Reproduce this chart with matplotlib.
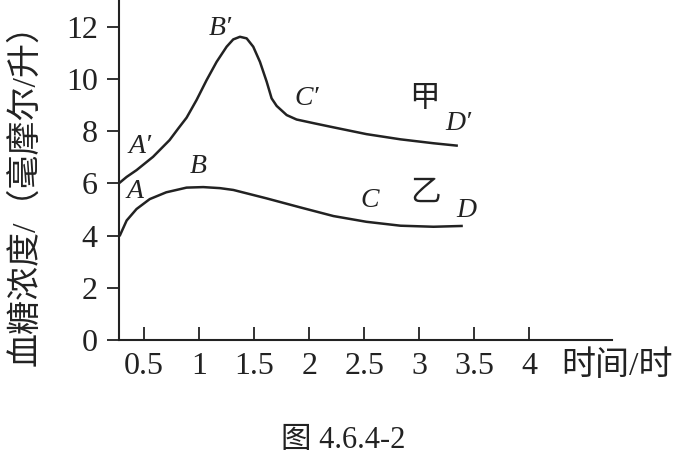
import matplotlib.pyplot as plt

plt.rcParams['font.family'] = ['Liberation Serif', 'Noto Sans CJK SC', 'DejaVu Sans']
plt.rcParams['axes.unicode_minus'] = False

ink = '#222222'

# blood glucose curves (time in hours, mmol/L)
jia_t = [0.28, 0.34, 0.43, 0.58, 0.73, 0.81, 0.885, 0.976, 1.067, 1.158, 1.249,
         1.309, 1.37, 1.431, 1.491, 1.552, 1.613, 1.658, 1.704, 1.795, 1.885,
         2.05, 2.22, 2.52, 2.83, 3.13, 3.34]
jia_c = [6.04, 6.25, 6.51, 7.02, 7.66, 8.11, 8.52, 9.20, 9.96, 10.66, 11.24,
         11.52, 11.62, 11.56, 11.24, 10.66, 9.90, 9.26, 8.97, 8.62, 8.45,
         8.30, 8.15, 7.89, 7.69, 7.54, 7.45]

yi_t = [0.28, 0.34, 0.43, 0.55, 0.70, 0.885, 1.036, 1.188, 1.31, 1.61, 1.92,
        2.22, 2.52, 2.83, 3.13, 3.385]
yi_c = [4.02, 4.58, 5.02, 5.40, 5.66, 5.84, 5.86, 5.82, 5.75, 5.43, 5.08,
        4.75, 4.53, 4.38, 4.34, 4.37]

x_ticks = [0.5, 1, 1.5, 2, 2.5, 3, 3.5, 4]
x_tick_labels = ['0.5', '1', '1.5', '2', '2.5', '3', '3.5', '4']
y_ticks = [0, 2, 4, 6, 8, 10, 12]

# point labels on the curves
point_names = ["A\u2032", "B\u2032", "C\u2032", "D\u2032", "A", "B", "C", "D"]
point_x = [0.46, 1.19, 1.98, 3.36, 0.415, 0.99, 2.55, 3.43]
point_y = [7.41, 11.94, 9.26, 8.30, 5.70, 6.66, 5.36, 4.98]

curve_names = ['甲', '乙']
curve_x = [3.05, 3.06]
curve_y = [9.2, 5.62]

fig = plt.figure(figsize=(6.76, 4.59), dpi=100)
ax = fig.add_axes([119.5 / 676, 1 - 340 / 459, (611.7 - 119.5) / 676, 340 / 459])

ax.plot(jia_t, jia_c, color=ink, lw=1.8, solid_joinstyle='round', clip_on=False)
ax.plot(yi_t, yi_c, color=ink, lw=1.8, solid_joinstyle='round', clip_on=False)

for name, x, y in zip(point_names, point_x, point_y):
    ax.text(x, y, name, fontsize=20, style='italic', color=ink, ha='center', va='center')
for name, x, y in zip(curve_names, curve_x, curve_y):
    ax.text(x, y, name, fontsize=22, color=ink, ha='center', va='center')

ax.set_xlim(0.275, 4.75)
ax.set_ylim(0, 13.03)

for side in ['top', 'right']:
    ax.spines[side].set_visible(False)
for side in ['left', 'bottom']:
    ax.spines[side].set_linewidth(1.5)
    ax.spines[side].set_color(ink)

ax.set_xticks(x_ticks)
ax.set_xticklabels(x_tick_labels)
ax.set_yticks(y_ticks)
ax.tick_params(axis='x', direction='in', length=9.4, width=1.3, pad=9,
               labelsize=23, colors=ink)
ax.tick_params(axis='y', direction='out', length=8.6, width=1.3, pad=7,
               labelsize=23, colors=ink)

fig.text(25 / 676, 1 - 186 / 459, '血糖浓度/（毫摩尔/升）', rotation=90,
         fontsize=24.5, color=ink, ha='center', va='center')
fig.text(561 / 676, 1 - 366 / 459, '时间/时', fontsize=24.5, color=ink,
         ha='left', va='center')
fig.text(343 / 676, 1 - 440 / 459, '图 4.6.4-2', fontsize=22, color=ink,
         ha='center', va='center')

fig.savefig('out.png', dpi=100)
